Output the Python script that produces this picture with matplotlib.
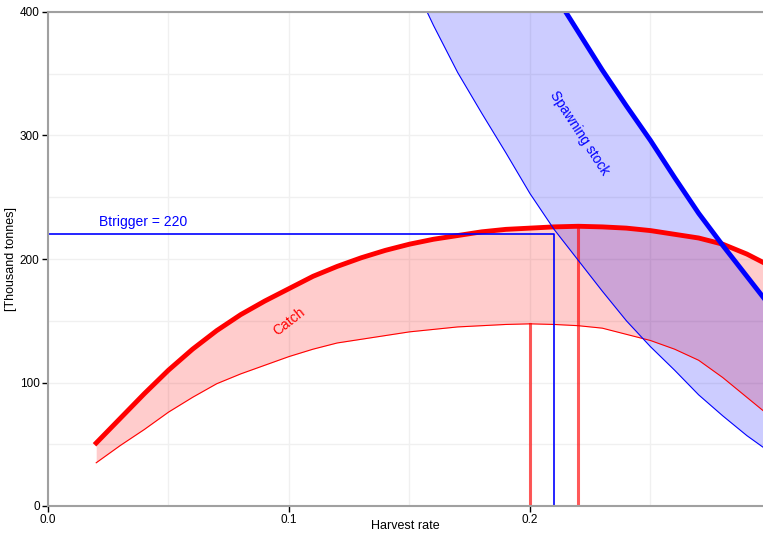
import numpy as np
import matplotlib.pyplot as plt

plt.rcParams['font.family'] = ['Liberation Sans', 'DejaVu Sans']

# harvest rate grid
hr = [0.02, 0.03, 0.04, 0.05, 0.06, 0.07, 0.08, 0.09, 0.10, 0.11, 0.12, 0.13, 0.14, 0.15,
      0.16, 0.17, 0.18, 0.19, 0.20, 0.21, 0.22, 0.23, 0.24, 0.25, 0.26, 0.27, 0.28, 0.29, 0.30]
catch_hi = [51, 71, 91, 110, 127, 142, 155, 166, 176, 186, 194, 201, 207, 212,
            216, 219, 222, 224, 225, 226, 226.5, 226, 225, 223, 220, 217, 212, 204, 194]
catch_lo = [35, 49, 62, 76, 88, 99, 107, 114, 121, 127, 132, 135, 138, 141,
            143, 145, 146, 147, 147.5, 147, 146, 144, 139, 134, 127, 118, 104, 88, 72]

# spawning stock
hr_ssb = [0.15, 0.16, 0.17, 0.18, 0.19, 0.20, 0.21, 0.22, 0.23, 0.24, 0.25, 0.26, 0.27, 0.28, 0.29, 0.30]
ssb_hi = [640, 590, 540, 530, 490, 448, 415, 384, 353, 324, 296, 266, 237, 211, 186, 161]
ssb_lo = [430, 389, 351, 318, 286, 253, 224, 199, 174, 150, 129, 110, 90, 73, 57, 43]

btrigger = 220
f_lo, f_btr, f_hi = 0.20, 0.21, 0.22

fig = plt.figure(figsize=(7.63, 5.37), dpi=100)
ax = fig.add_axes([48 / 763, 31 / 537, 1 - 48 / 763, (506 - 12) / 537])

ax.set_xlim(0, 0.2967)
ax.set_ylim(0, 400)
ax.set_xticks([0.0, 0.1, 0.2])
ax.set_xticklabels(['0.0', '0.1', '0.2'])
ax.set_yticks([0, 100, 200, 300, 400])
ax.set_xticks([0.05, 0.15, 0.25], minor=True)
ax.set_yticks([50, 150, 250, 350], minor=True)
ax.grid(True, which='both', color='#f0f0f0', lw=1)
ax.set_axisbelow(True)
ax.tick_params(which='minor', length=0)
ax.tick_params(which='major', labelsize=8.5, length=4, width=1, pad=2, colors='black')

for s in ['top', 'left', 'bottom']:
    ax.spines[s].set_color('#a0a0a0')
    ax.spines[s].set_linewidth(1.5)
ax.spines['right'].set_visible(False)

# catch band
ax.fill_between(hr, catch_lo, catch_hi, color='red', alpha=0.2, lw=0)
ax.plot(hr, catch_lo, color='red', lw=0.8)
ax.plot(hr, catch_hi, color='red', lw=3.5)

# reference lines
ax.plot([0, f_btr, f_btr], [btrigger, btrigger, 0], color='blue', lw=1.2)
ax.plot([f_lo, f_lo], [0, np.interp(f_lo, hr, catch_lo)], color='red', alpha=0.65, lw=2.2)
ax.plot([f_hi, f_hi], [0, np.interp(f_hi, hr, catch_hi)], color='red', alpha=0.65, lw=2.2)

# spawning stock band
ax.fill_between(hr_ssb, ssb_lo, ssb_hi, color='blue', alpha=0.2, lw=0)
ax.plot(hr_ssb, ssb_lo, color='blue', lw=0.8)
ax.plot(hr_ssb, ssb_hi, color='blue', lw=3.5)

ax.text(0.021, 224, 'Btrigger = 220', color='blue', fontsize=10, va='bottom')
ax.text(0.1, 149, 'Catch', color='red', fontsize=10, rotation=38, ha='center', va='center')
ax.text(0.2207, 302, 'Spawning stock', color='blue', fontsize=10, rotation=-57,
        ha='center', va='center')

ax.set_xlabel('Harvest rate', fontsize=9)
ax.set_ylabel('[Thousand tonnes]', fontsize=9)
ax.xaxis.set_label_coords(0.5, -0.028)
ax.yaxis.set_label_coords(-0.043, 0.5)

fig.savefig('out.png', dpi=100)
